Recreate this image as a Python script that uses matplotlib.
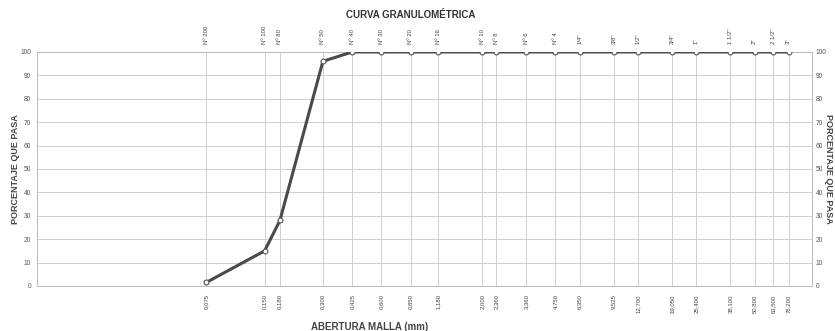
import numpy as np
import matplotlib
matplotlib.use("Agg")
import matplotlib.pyplot as plt

plt.rcParams['font.family'] = ['Liberation Sans', 'DejaVu Sans']

# abertura de tamices (mm) y porcentaje que pasa
aberturas = [0.075, 0.150, 0.180, 0.300, 0.425, 0.600, 0.850, 1.180, 2.000, 2.360,
             3.360, 4.750, 6.350, 9.525, 12.700, 19.050, 25.400, 38.100, 50.800,
             63.500, 76.200]
tamices = ['Nº 200', 'Nº 100', 'Nº 80', 'Nº 50', 'Nº 40', 'Nº 30', 'Nº 20', 'Nº 16',
           'Nº 10', 'Nº 8', 'Nº 6', 'Nº 4', '1/4"', '3/8"', '1/2"', '3/4"', '1"',
           '1 1/2"', '2"', '2 1/2"', '3"']
pasa = [1.5, 15, 28, 96, 100, 100, 100, 100, 100, 100,
        100, 100, 100, 100, 100, 100, 100, 100, 100, 100, 100]

fig = plt.figure(figsize=(8.35, 3.31), dpi=100)
ax = fig.add_axes([0.044, 0.136, 0.928, 0.707])

ax.set_xscale('log')
ax.set_xlim(0.01, 100)
ax.set_ylim(0, 100)

ax.plot(aberturas, pasa, '-', color='#4a4a4a', linewidth=2.2, zorder=3)
ax.plot(aberturas, pasa, 'o', markersize=3.5, markerfacecolor='white',
        markeredgecolor='#555555', markeredgewidth=0.8, zorder=4)

# etiquetas inferiores
ax.set_xticks(aberturas)
ax.set_xticklabels([('%.3f' % a).replace('.', ',') for a in aberturas],
                   rotation=90, fontsize=4.3, color='#444444')
ax.xaxis.set_minor_locator(matplotlib.ticker.NullLocator())
ax.tick_params(axis='x', length=0, pad=6)
ax.set_yticks(range(0, 101, 10))
ax.tick_params(axis='y', labelsize=4.8, colors='#555555', length=0, pad=4)

ax.grid(True, color='#d0d0d0', linewidth=0.7)
for s in ax.spines.values():
    s.set_color('#bbbbbb')
    s.set_linewidth(0.7)

# eje superior con tamices
ax_top = ax.twiny()
ax_top.set_xscale('log')
ax_top.set_xlim(ax.get_xlim())
ax_top.set_xticks(aberturas)
ax_top.set_xticklabels(tamices, rotation=90, fontsize=4.3, color='#444444')
ax_top.xaxis.set_minor_locator(matplotlib.ticker.NullLocator())
ax_top.tick_params(axis='x', length=0, pad=6)

# eje derecho
ax_r = ax.twinx()
ax_r.set_ylim(0, 100)
ax_r.set_yticks(range(0, 101, 10))
ax_r.tick_params(axis='y', labelsize=4.8, colors='#555555', length=0, pad=3)
for s in list(ax_top.spines.values()) + list(ax_r.spines.values()):
    s.set_visible(False)

fig.text(0.018, 0.49, 'PORCENTAJE QUE PASA', rotation=90, ha='center', va='center',
         fontsize=6.5, fontweight='bold', color='#444444')
fig.text(0.992, 0.49, 'PORCENTAJE QUE PASA', rotation=-90, ha='center', va='center',
         fontsize=6.5, fontweight='bold', color='#444444')
ax.set_xlabel('ABERTURA MALLA (mm)', fontsize=7, fontweight='bold', color='#444444')
ax.xaxis.set_label_coords(0.43, -0.155)
fig.text(0.492, 0.955, 'CURVA GRANULOMÉTRICA', ha='center', va='center', fontsize=7,
         fontweight='bold', color='#333333')

fig.savefig('out.png', dpi=100)
